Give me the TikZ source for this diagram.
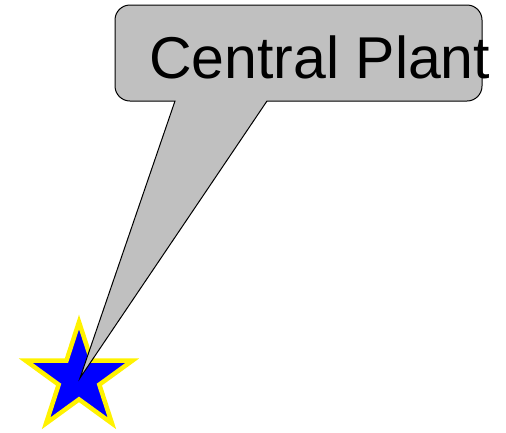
\documentclass[tikz,border=0pt]{standalone}
\usepackage{fontspec}
\setmainfont{Liberation Sans}
\usetikzlibrary{shapes.geometric}
\definecolor{calloutgray}{HTML}{C0C0C0}
\tikzset{
  starmark/.style={star, star points=5, star point ratio=2.618, inner sep=0pt, minimum size=112pt, draw=yellow, fill=blue, line width=4.5pt},
  calloutbox/.style={fill=calloutgray, draw=black, line width=1pt},
  labeltext/.style={anchor=base west, inner sep=0pt, font=\fontsize{59}{61}\selectfont}
}
\begin{document}
\begin{tikzpicture}[x=1pt, y=-1pt]
\useasboundingbox (0,0) rectangle (506,432);
\node[starmark] (star) at (79,378) {};
\coordinate (tip) at (80,378);
\coordinate (bl) at (175,101);
\coordinate (br) at (267,101);
\draw[calloutbox] (bl) -- (tip) -- (br) {[rounded corners=15pt] -- (482,101) -- (482,5) -- (115,5) -- (115,101)} -- cycle;
\node[labeltext] (label) at (149,78) {Central Plant};
\end{tikzpicture}
\end{document}
